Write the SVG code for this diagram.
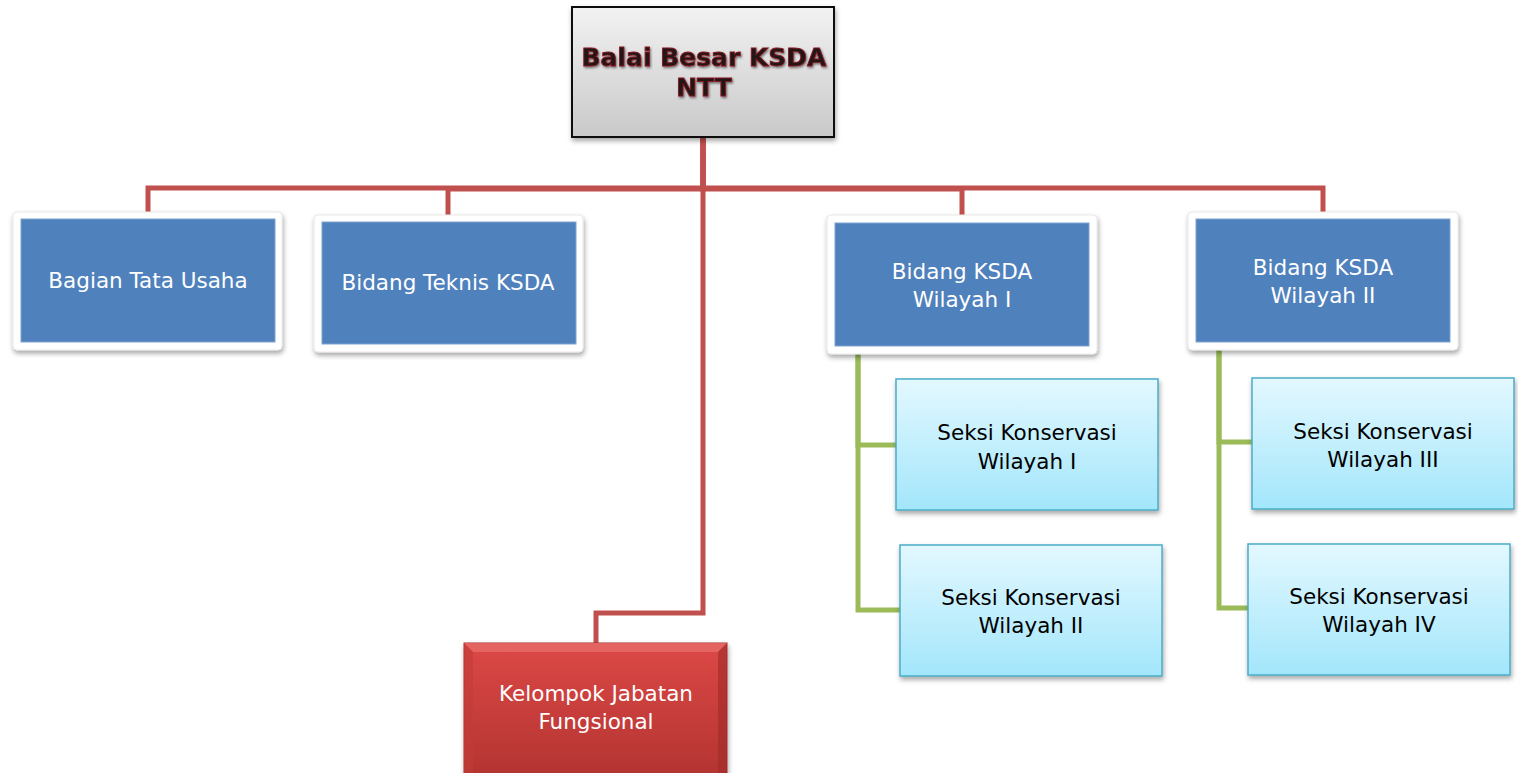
<svg xmlns="http://www.w3.org/2000/svg" width="1518" height="773" viewBox="0 0 1518 773">
<defs>
<linearGradient id="gGray" x1="0" y1="0" x2="0" y2="1"><stop offset="0" stop-color="#f2f2f2"/><stop offset="1" stop-color="#c9c9c9"/></linearGradient>
<linearGradient id="gCyan" x1="0" y1="0" x2="0" y2="1"><stop offset="0" stop-color="#e3f8ff"/><stop offset="1" stop-color="#a3e6fb"/></linearGradient>
<linearGradient id="gRed" x1="0" y1="0" x2="0" y2="1"><stop offset="0" stop-color="#dc4846"/><stop offset="1" stop-color="#b33431"/></linearGradient>
<filter id="sh" x="-10%" y="-10%" width="125%" height="130%"><feDropShadow dx="1" dy="3" stdDeviation="2.5" flood-color="#000" flood-opacity="0.35"/></filter>
<filter id="tsh" x="-5%" y="-20%" width="110%" height="150%"><feDropShadow dx="1" dy="1.5" stdDeviation="1" flood-color="#000" flood-opacity="0.5"/></filter>
<style>
.red{fill:none;stroke:#c0504d;stroke-width:5}
.grn{fill:none;stroke:#9bbb59;stroke-width:5}
.frame{fill:#fff;stroke:#e8e8e8;stroke-width:1}
.blue{fill:#4f81bd;stroke:#7fa3d0;stroke-width:1}
.cyan{fill:url(#gCyan);stroke:#4bacc6;stroke-width:1.5}
.t{font-family:"DejaVu Sans",Verdana,sans-serif;font-size:21.5px;text-anchor:middle}
.w{fill:#fff}
.k{fill:#000}
.title{font-family:"DejaVu Sans",Verdana,sans-serif;font-size:25px;font-weight:bold;text-anchor:middle;fill:#241818;stroke:#8a1a22;stroke-width:0.9}
</style>
</defs>
<g id="connectors">
<path class="red" d="M703,137 V188 H148 V214"/>
<path class="red" d="M703,137 V189 H448 V217"/>
<path class="red" d="M703,137 V189 H962 V217"/>
<path class="red" d="M703,137 V188 H1323 V214"/>
<path class="red" d="M703,137 V613 H596 V643"/>
<path class="grn" d="M858,352 V445 H897"/>
<path class="grn" d="M858,352 V610 H901"/>
<path class="grn" d="M1219,349 V442 H1253"/>
<path class="grn" d="M1219,349 V608 H1249"/>
</g>
<g id="n-balai">
<rect x="572" y="7" width="262" height="130" fill="url(#gGray)" stroke="#111" stroke-width="2" filter="url(#sh)"/>
<text class="title" x="704" y="66" filter="url(#tsh)">Balai Besar KSDA</text>
<text class="title" x="704" y="96" filter="url(#tsh)">NTT</text>
</g>
<g id="n-tu">
<rect class="frame" x="13" y="212" width="269" height="138" rx="4" filter="url(#sh)"/>
<rect class="blue" x="21" y="219" width="254" height="123"/>
<text class="t w" x="148" y="288">Bagian Tata Usaha</text>
</g>
<g id="n-teknis">
<rect class="frame" x="314" y="215" width="269" height="137" rx="4" filter="url(#sh)"/>
<rect class="blue" x="322" y="222" width="254" height="122"/>
<text class="t w" x="448" y="290">Bidang Teknis KSDA</text>
</g>
<g id="n-w1">
<rect class="frame" x="827" y="215" width="270" height="139" rx="4" filter="url(#sh)"/>
<rect class="blue" x="835" y="223" width="254" height="123"/>
<text class="t w" x="962" y="279">Bidang KSDA</text>
<text class="t w" x="962" y="307">Wilayah I</text>
</g>
<g id="n-w2">
<rect class="frame" x="1188" y="212" width="270" height="138" rx="4" filter="url(#sh)"/>
<rect class="blue" x="1196" y="219" width="254" height="123"/>
<text class="t w" x="1323" y="275">Bidang KSDA</text>
<text class="t w" x="1323" y="303">Wilayah II</text>
</g>
<g id="n-s1">
<rect class="cyan" x="896" y="379" width="262" height="131" filter="url(#sh)"/>
<text class="t k" x="1027" y="440">Seksi Konservasi</text>
<text class="t k" x="1027" y="469">Wilayah I</text>
</g>
<g id="n-s2">
<rect class="cyan" x="900" y="545" width="262" height="131" filter="url(#sh)"/>
<text class="t k" x="1031" y="605">Seksi Konservasi</text>
<text class="t k" x="1031" y="633">Wilayah II</text>
</g>
<g id="n-s3">
<rect class="cyan" x="1252" y="378" width="262" height="131" filter="url(#sh)"/>
<text class="t k" x="1383" y="439">Seksi Konservasi</text>
<text class="t k" x="1383" y="467">Wilayah III</text>
</g>
<g id="n-s4">
<rect class="cyan" x="1248" y="544" width="262" height="131" filter="url(#sh)"/>
<text class="t k" x="1379" y="604">Seksi Konservasi</text>
<text class="t k" x="1379" y="632">Wilayah IV</text>
</g>
<g id="n-kjf">
<rect x="464" y="643" width="263" height="135" fill="url(#gRed)" stroke="#a8302d" stroke-width="1" filter="url(#sh)"/>
<path d="M464,643 H727 L718,652 H473 Z" fill="#e8706e" opacity="0.7"/>
<path d="M464,643 L473,652 V773 H464 Z" fill="#c23c39" opacity="0.6"/>
<path d="M727,643 L718,652 V773 H727 Z" fill="#9e2b28" opacity="0.6"/>
<text class="t w" x="596" y="701">Kelompok Jabatan</text>
<text class="t w" x="596" y="729">Fungsional</text>
</g>
</svg>
